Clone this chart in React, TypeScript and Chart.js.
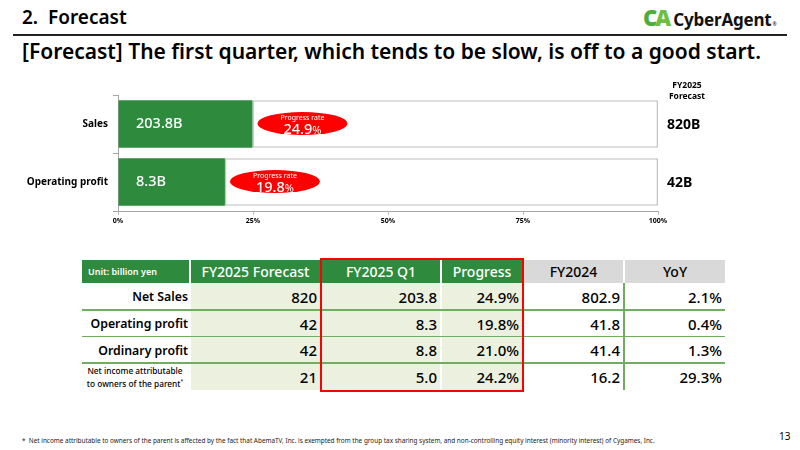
import React, { useEffect, useRef } from "react";
import { Chart, registerables } from "chart.js";

Chart.register(...registerables);

// ---- chart data ----
const chartCategories = ["Sales", "Operating profit"];
const forecastBillions = [820, 42];
const q1Billions = [203.8, 8.3];
const progressRates = [24.9, 19.8];
const xTickStep = 25;

// ---- table data ----
const tableHeaders = ["Unit: billion yen", "FY2025 Forecast", "FY2025 Q1", "Progress", "FY2024", "YoY"];
const tableRowLabels = ["Net Sales", "Operating profit", "Ordinary profit", "Net income attributable|to owners of the parent"];
const tableForecast = [820, 42, 42, 21];
const tableQ1 = [203.8, 8.3, 8.8, 5.0];
const tableProgress = [24.9, 19.8, 21.0, 24.2];
const tableFY2024 = [802.9, 41.8, 41.4, 16.2];
const tableYoY = [2.1, 0.4, 1.3, 29.3];

const FONT = "'Noto Sans', 'Open Sans', sans-serif";
const GREEN = "#2e8b3e";
const LIGHT = "#ebf1de";

const annotate = {
  id: "annotate",
  afterDatasetsDraw(chart: any) {
    const { ctx, chartArea } = chart;
    const xs = chart.scales.x;
    const ys = chart.scales.y;
    ctx.save();
    ctx.textBaseline = "middle";
    for (let i = 0; i < chartCategories.length; i++) {
      const yc = ys.getPixelForValue(i);
      const x0 = xs.getPixelForValue(0);
      const xe = xs.getPixelForValue(progressRates[i]);
      // value inside green bar
      ctx.fillStyle = "#fff";
      ctx.textAlign = "left";
      ctx.font = `500 14.5px ${FONT}`;
      ctx.fillText(q1Billions[i].toFixed(1) + "B", x0 + 18, yc);
      // red ellipse
      const rx = 45, ry = 11.5;
      const cx = xe + 5 + rx;
      const cy = yc - 0.5;
      ctx.beginPath();
      ctx.ellipse(cx, cy, rx, ry, 0, 0, Math.PI * 2);
      ctx.fillStyle = "#ff0000";
      ctx.fill();
      ctx.fillStyle = "#fff";
      ctx.textAlign = "center";
      ctx.font = `7px ${FONT}`;
      ctx.fillText("Progress rate", cx, cy - 6);
      const num = progressRates[i].toFixed(1);
      ctx.font = `500 14.5px ${FONT}`;
      const wN = ctx.measureText(num).width;
      ctx.font = `11px ${FONT}`;
      const wP = ctx.measureText("%").width;
      const sx = cx - (wN + wP) / 2;
      ctx.textAlign = "left";
      ctx.textBaseline = "alphabetic";
      ctx.font = `500 14.5px ${FONT}`;
      ctx.fillText(num, sx, cy + 10);
      ctx.font = `11px ${FONT}`;
      ctx.fillText("%", sx + wN, cy + 10);
      ctx.textBaseline = "middle";
      // forecast on right
      ctx.fillStyle = "#000";
      ctx.textAlign = "left";
      ctx.font = `bold 14px ${FONT}`;
      ctx.fillText(forecastBillions[i] + "B", chartArea.right + 9, yc + 1);
    }
    ctx.fillStyle = "#000";
    ctx.textAlign = "center";
    ctx.font = `bold 8.5px ${FONT}`;
    ctx.fillText("FY2025", chartArea.right + 29, chartArea.top - 9);
    ctx.fillText("Forecast", chartArea.right + 29, chartArea.top + 2);
    ctx.restore();
  },
};

function BarChart() {
  const ref = useRef<HTMLCanvasElement>(null);
  useEffect(() => {
    const chart = new Chart(ref.current as HTMLCanvasElement, {
      type: "bar",
      data: {
        labels: chartCategories,
        datasets: [
          {
            data: progressRates,
            backgroundColor: GREEN,
            borderWidth: 0,
            barPercentage: 0.82,
            categoryPercentage: 1,
          },
          {
            data: progressRates.map((p) => 100 - p),
            backgroundColor: "#ffffff",
            borderColor: "#c3c3c3",
            borderWidth: 1.5,
            borderSkipped: false,
            barPercentage: 0.82,
            categoryPercentage: 1,
          },
        ],
      },
      options: {
        indexAxis: "y",
        responsive: false,
        animation: false,
        layout: { padding: { top: 25, right: 142, bottom: 0, left: 0 } },
        plugins: { legend: { display: false }, tooltip: { enabled: false } },
        scales: {
          x: {
            stacked: true,
            min: 0,
            max: 100,
            ticks: {
              stepSize: xTickStep,
              callback: (v: any) => v + "%",
              color: "#000",
              font: { family: FONT, size: 7, weight: "bold" },
              padding: 2,
            },
            grid: { drawOnChartArea: false, tickLength: 4, color: "#bfbfbf" },
            border: { color: "#a6a6a6", width: 1 },
            afterFit: (s: any) => {
              s.height = 19;
            },
          },
          y: {
            stacked: true,
            ticks: {
              color: "#000",
              font: { family: FONT, size: 10, weight: "bold" },
              padding: 5,
            },
            grid: { drawOnChartArea: false, tickLength: 5, color: "#a6a6a6", offset: true },
            border: { color: "#a6a6a6", width: 1 },
            afterFit: (s: any) => {
              s.width = 118;
            },
          },
        },
      } as any,
      plugins: [annotate],
    });
    return () => chart.destroy();
  }, []);
  return (
    <canvas
      ref={ref}
      width={800}
      height={160}
      style={{ position: "absolute", left: 0, top: 70, width: 800, height: 160 }}
    />
  );
}

const colLeft = [82, 191, 322, 442, 524, 625];
const colRight = [189, 320, 440, 522, 623, 725];
const rowTop = [283, 310, 337, 363];
const rowBottom = [310, 337, 363, 390];

function DataTable() {
  const cells: any[] = [];
  tableHeaders.forEach((h, c) => {
    const green = c < 4;
    cells.push(
      <div
        key={"h" + c}
        style={{
          position: "absolute",
          left: colLeft[c],
          top: 260,
          width: colRight[c] - colLeft[c],
          height: 23,
          background: green ? GREEN : "#d9d9d9",
          color: green ? "#fff" : "#000",
          display: "flex",
          alignItems: "center",
          justifyContent: c === 0 ? "flex-start" : "center",
          paddingLeft: c === 0 ? 6 : 0,
          boxSizing: "border-box",
          fontSize: c === 0 ? 9 : 14,
          fontWeight: c === 0 ? 600 : 500,
        }}
      >
        {h}
      </div>
    );
  });
  const cols = [
    tableForecast.map((v) => String(v)),
    tableQ1.map((v) => v.toFixed(1)),
    tableProgress.map((v) => v.toFixed(1) + "%"),
    tableFY2024.map((v) => v.toFixed(1)),
    tableYoY.map((v) => v.toFixed(1) + "%"),
  ];
  tableRowLabels.forEach((lab, r) => {
    const parts = lab.split("|");
    cells.push(
      <div
        key={"l" + r}
        style={{
          position: "absolute",
          left: colLeft[0],
          top: rowTop[r],
          width: colRight[0] - colLeft[0],
          height: rowBottom[r] - rowTop[r],
          display: "flex",
          flexDirection: "column",
          alignItems: parts.length > 1 ? "center" : "flex-end",
          justifyContent: "center",
          paddingRight: 1,
          boxSizing: "border-box",
          fontSize: parts.length > 1 ? 8.3 : 12.3,
          fontWeight: parts.length > 1 ? 500 : 650,
          lineHeight: parts.length > 1 ? "11px" : "normal",
          whiteSpace: "nowrap",
        }}
      >
        {parts.map((p, k) => (
          <div key={k}>
            {p}
            {k === 1 ? <sup style={{ fontSize: 5 }}>*</sup> : null}
          </div>
        ))}
      </div>
    );
    cols.forEach((vals, ci) => {
      const c = ci + 1;
      cells.push(
        <div
          key={"c" + r + "_" + c}
          style={{
            position: "absolute",
            left: colLeft[c],
            top: rowTop[r],
            width: colRight[c] - colLeft[c],
            height: rowBottom[r] - rowTop[r],
            background: c <= 3 ? LIGHT : "#fff",
            display: "flex",
            alignItems: "center",
            justifyContent: "flex-end",
            paddingRight: 3,
            boxSizing: "border-box",
            fontSize: 15,
            fontWeight: 550,
          }}
        >
          {vals[r]}
        </div>
      );
    });
  });
  // separators
  [310, 336.5, 363].forEach((y, i) =>
    cells.push(
      <div
        key={"s" + i}
        style={{ position: "absolute", left: 82, top: y - 0.75, width: 643, height: 1.5, background: "#6fae61" }}
      />
    )
  );
  cells.push(
    <div key="v" style={{ position: "absolute", left: 623, top: 283, width: 1.5, height: 107, background: "#6fae61" }} />
  );
  cells.push(
    <div
      key="red"
      style={{
        position: "absolute",
        left: 319.5,
        top: 258,
        width: 204,
        height: 134,
        border: "2.5px solid #ff0000",
        boxSizing: "border-box",
      }}
    />
  );
  return <>{cells}</>;
}

export default function App() {
  return (
    <div
      style={{
        position: "fixed",
        left: 0,
        top: 0,
        width: 800,
        height: 450,
        background: "#fff",
        fontFamily: FONT,
        color: "#000",
        overflow: "hidden",
      }}
    >
      <div style={{ position: "absolute", left: 22, top: 4, fontSize: 19, fontWeight: 600, whiteSpace: "pre" }}>
        {"2.  Forecast"}
      </div>
      <div style={{ position: "absolute", left: 643, top: 2, display: "flex", alignItems: "baseline", whiteSpace: "pre" }}>
        <span style={{ fontSize: 22, fontWeight: 900, color: "#4bae3c", letterSpacing: -2 }}>C</span>
        <span style={{ fontSize: 22, fontWeight: 900, color: "#6cbf3f", letterSpacing: 0 }}>A</span>
        <span style={{ fontSize: 17, fontWeight: 700, color: "#111", marginLeft: 2, letterSpacing: -0.2 }}>CyberAgent</span>
        <span style={{ fontSize: 5, marginLeft: 1 }}>®</span>
      </div>
      <div style={{ position: "absolute", left: 13, top: 34, width: 774, height: 2, background: "#222" }} />
      <div style={{ position: "absolute", left: 22, top: 37, fontSize: 21, fontWeight: 600, whiteSpace: "pre" }}>
        [Forecast] The first quarter, which tends to be slow, is off to a good start.
      </div>
      <BarChart />
      <DataTable />
      <div style={{ position: "absolute", left: 22, top: 436, fontSize: 6.4, whiteSpace: "pre", color: "#222" }}>
        {"*  Net income attributable to owners of the parent is affected by the fact that AbemaTV, Inc. is exempted from the group tax sharing system, and non-controlling equity interest (minority interest) of Cygames, Inc."}
      </div>
      <div style={{ position: "absolute", left: 779, top: 429, fontSize: 10 }}>13</div>
    </div>
  );
}
